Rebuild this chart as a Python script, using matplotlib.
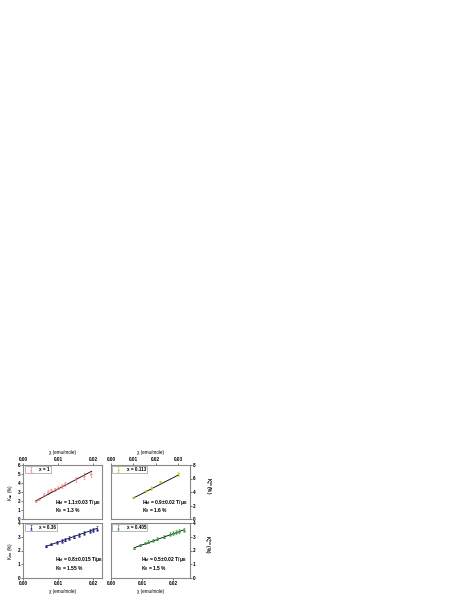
import numpy as np
import matplotlib
matplotlib.use('Agg')
import matplotlib.pyplot as plt

# Knight shift vs susceptibility, four compositions
chi_1 = [0.0035, 0.0045, 0.006, 0.007, 0.008, 0.009, 0.010, 0.011, 0.012, 0.015, 0.0175, 0.0195]
k_1 = [2.0, 2.2, 2.7, 3.0, 3.2, 3.3, 3.5, 3.7, 3.9, 4.4, 4.8, 5.0]
err_1 = [0.08, 0.1, 0.15, 0.2, 0.15, 0.2, 0.2, 0.2, 0.2, 0.25, 0.3, 0.35]

chi_113 = [0.010, 0.015, 0.018, 0.022, 0.030]
k_113 = [3.2, 4.2, 4.6, 5.5, 6.7]
err_113 = [0.1, 0.15, 0.25, 0.2, 0.3]

chi_36 = [0.0065, 0.008, 0.0095, 0.011, 0.012, 0.013, 0.0145, 0.016, 0.0175, 0.019, 0.020, 0.0212]
k_36 = [2.3, 2.45, 2.6, 2.7, 2.8, 2.9, 3.0, 3.15, 3.25, 3.4, 3.5, 3.6]
err_36 = [0.07, 0.08, 0.1, 0.12, 0.12, 0.12, 0.12, 0.15, 0.15, 0.15, 0.15, 0.15]

chi_405 = [0.0075, 0.0095, 0.011, 0.012, 0.0135, 0.015, 0.017, 0.019, 0.020, 0.021, 0.022, 0.0235]
k_405 = [2.15, 2.4, 2.55, 2.65, 2.75, 2.85, 3.0, 3.2, 3.3, 3.35, 3.4, 3.5]
err_405 = [0.07, 0.08, 0.1, 0.12, 0.12, 0.12, 0.12, 0.15, 0.15, 0.15, 0.15, 0.15]

fit_1 = [(0.0035, 2.0), (0.0195, 5.3)]
fit_113 = [(0.010, 3.1), (0.030, 6.5)]
fit_36 = [(0.0065, 2.3), (0.021, 3.6)]
fit_405 = [(0.0075, 2.2), (0.0235, 3.5)]

legend_labels = ['x = 1', 'x = 0.113', 'x = 0.36', 'x = 0.405']
hf_text = ['H$_{hf}$ = 1.1±0.03 T/μ$_B$', 'H$_{hf}$ = 0.9±0.02 T/μ$_B$',
           'H$_{hf}$ = 0.8±0.015 T/μ$_B$', 'H$_{hf}$ = 0.5±0.02 T/μ$_B$']
k0_text = ['K$_0$ = 1.3 %', 'K$_0$ = 1.6 %', 'K$_0$ = 1.55 %', 'K$_0$ = 1.5 %']

fs = 3.3
plt.rcParams['font.family'] = 'Liberation Sans'
plt.rcParams['font.weight'] = 'bold'
plt.rcParams['mathtext.fontset'] = 'custom'
plt.rcParams['mathtext.rm'] = 'Liberation Sans:bold'
plt.rcParams['mathtext.it'] = 'Liberation Sans:bold'
plt.rcParams['mathtext.bf'] = 'Liberation Sans:bold'

fig = plt.figure(figsize=(4.63, 5.99), dpi=100)
W, H = 463, 599

def make_ax(x0, y0, x1, y1):
    return fig.add_axes([x0 / W, 1 - y1 / H, (x1 - x0) / W, (y1 - y0) / H])

ax_tl = make_ax(23.3, 465, 102.3, 519)
ax_tr = make_ax(111, 465, 190, 519)
ax_bl = make_ax(23.3, 523, 102.3, 578)
ax_br = make_ax(111, 523, 190, 578)

panels = [
    (ax_tl, chi_1, k_1, err_1, fit_1, '#ff8080', '>', 0.0226, 6, np.arange(0, 7, 1), 0.40, 0.31, 0.15),
    (ax_tr, chi_113, k_113, err_113, fit_113, '#c8c820', '<', 0.0353, 8, np.arange(0, 9, 2), 0.39, 0.31, 0.15),
    (ax_bl, chi_36, k_36, err_36, fit_36, '#2020a0', '^', 0.0226, 4, np.arange(0, 5, 1), 0.40, 0.33, 0.17),
    (ax_br, chi_405, k_405, err_405, fit_405, '#30a030', '^', 0.0255, 4, np.arange(0, 5, 1), 0.38, 0.33, 0.17),
]

for i, (ax, xs, ys, es, fit, col, mk, xmax, ymax, yt, tx, ty1, ty2) in enumerate(panels):
    ax.errorbar(xs, ys, yerr=es, fmt=mk, color=col, ms=1.4, mew=0.4,
                mfc='none' if i == 0 else col, elinewidth=0.4, capsize=0.9,
                capthick=0.4, label=legend_labels[i])
    ax.plot([fit[0][0], fit[1][0]], [fit[0][1], fit[1][1]], color='black', lw=0.6)
    ax.set_xlim(0, xmax)
    ax.set_ylim(0, ymax)
    ax.set_yticks(yt)
    if xmax > 0.03:
        ax.set_xticks([0, 0.01, 0.02, 0.03])
        ax.set_xticklabels(['0.00', '0.01', '0.02', '0.03'])
    else:
        ax.set_xticks([0, 0.01, 0.02])
        ax.set_xticklabels(['0.00', '0.01', '0.02'])
    for s in ax.spines.values():
        s.set_color('#888888')
        s.set_linewidth(0.8)
    ax.tick_params(labelsize=fs, length=1.2, width=0.4, pad=1, direction='out')
    leg = ax.legend(loc='upper left', fontsize=fs, frameon=True, fancybox=False,
                    borderpad=0.2, handlelength=2.2, handletextpad=0.8,
                    borderaxespad=0.3, markerscale=0.7)
    leg.get_frame().set_edgecolor('#666666')
    leg.get_frame().set_linewidth(0.4)
    ax.text(tx, ty1, hf_text[i], transform=ax.transAxes, fontsize=fs + 0.3,
            ha='left', va='center')
    ax.text(tx, ty2, k0_text[i], transform=ax.transAxes, fontsize=fs + 0.3,
            ha='left', va='center')

# axis sides
ax_tl.xaxis.tick_top()
ax_tr.xaxis.tick_top()
ax_tl.xaxis.set_label_position('top')
ax_tr.xaxis.set_label_position('top')
for ax in [ax_tl, ax_tr, ax_bl, ax_br]:
    ax.set_xlabel('χ (emu/mole)', fontsize=fs, labelpad=2)

ax_tr.yaxis.tick_right()
ax_br.yaxis.tick_right()

ax_tl.set_ylabel('K$_{ax}$ (%)', fontsize=fs, labelpad=2)
ax_bl.set_ylabel('K$_{iso}$ (%)', fontsize=fs, labelpad=2)
ax_tr.text(1.22, 0.62, 'K$_c^{ax}$ (%)', transform=ax_tr.transAxes, fontsize=fs,
           rotation=-90, ha='center', va='center')
ax_br.text(1.22, 0.62, 'K$_c^{iso}$ (%)', transform=ax_br.transAxes, fontsize=fs,
           rotation=-90, ha='center', va='center')

fig.savefig('out.png', dpi=100)
